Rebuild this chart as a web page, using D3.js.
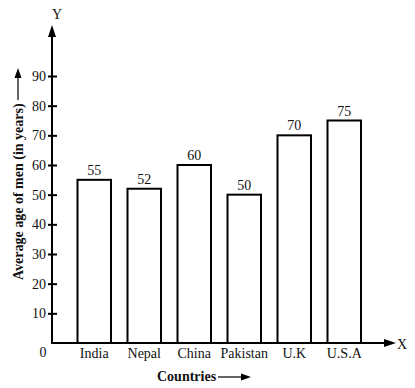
<!DOCTYPE html>
<html>
<head>
<meta charset="utf-8">
<script src="https://cdn.jsdelivr.net/npm/d3@7"></script>
<style>
  body { margin: 0; background: #fff; }
  text { font-family: "Liberation Serif", "Times New Roman", serif; fill: #111; }
</style>
</head>
<body>
<svg id="chart" width="415" height="388"></svg>
<script>
// data
var countries = ["India", "Nepal", "China", "Pakistan", "U.K", "U.S.A"];
var ages = [55, 52, 60, 50, 70, 75];
var yTicks = [10, 20, 30, 40, 50, 60, 70, 80, 90];

var svg = d3.select("#chart");
var axisX = 52, baseY = 343;

var y = d3.scaleLinear().domain([0, 90]).range([baseY, 76]);
var x = d3.scaleBand().domain(countries).range([77.5, 361]).paddingInner(0.33).paddingOuter(0);

// bars
svg.selectAll("rect.bar")
  .data(countries)
  .enter().append("rect")
    .attr("class", "bar")
    .attr("x", d => x(d))
    .attr("y", (d, i) => y(ages[i]))
    .attr("width", x.bandwidth())
    .attr("height", (d, i) => baseY - y(ages[i]))
    .attr("fill", "#fff")
    .attr("stroke", "#000")
    .attr("stroke-width", 2);

// value labels
svg.selectAll("text.val")
  .data(countries)
  .enter().append("text")
    .attr("class", "val")
    .attr("x", d => x(d) + x.bandwidth() / 2)
    .attr("y", (d, i) => y(ages[i]) - 5)
    .attr("text-anchor", "middle")
    .style("font-size", "14px")
    .text((d, i) => ages[i]);

// y axis ticks
var yAxis = d3.axisLeft(y).tickValues(yTicks).tickSize(4).tickPadding(2);
var gy = svg.append("g").attr("transform", "translate(" + axisX + ",0)").call(yAxis);
gy.select(".domain").remove();
gy.selectAll(".tick line").attr("x1", 5).attr("stroke", "#000").attr("stroke-width", 2);
gy.selectAll(".tick text").style("font-size", "14px").attr("font-family", null);

// x labels
svg.selectAll("text.cat")
  .data(countries)
  .enter().append("text")
    .attr("class", "cat")
    .attr("x", d => x(d) + x.bandwidth() / 2)
    .attr("y", 358)
    .attr("text-anchor", "middle")
    .style("font-size", "14px")
    .text(d => d);

// axes lines with arrowheads
svg.append("line").attr("x1", axisX).attr("y1", baseY + 1).attr("x2", axisX).attr("y2", 34)
  .attr("stroke", "#000").attr("stroke-width", 2);
svg.append("path").attr("d", "M" + axisX + ",25 L" + (axisX - 4) + ",37 L" + (axisX + 4) + ",37 Z").attr("fill", "#000");
svg.append("line").attr("x1", axisX - 1).attr("y1", baseY).attr("x2", 388).attr("y2", baseY)
  .attr("stroke", "#000").attr("stroke-width", 2);
svg.append("path").attr("d", "M396," + baseY + " L384," + (baseY - 4) + " L384," + (baseY + 4) + " Z").attr("fill", "#000");

svg.append("text").attr("x", axisX + 5).attr("y", 19).attr("text-anchor", "middle").style("font-size", "14px").text("Y");
svg.append("text").attr("x", 402).attr("y", 349).attr("text-anchor", "middle").style("font-size", "14px").text("X");
svg.append("text").attr("x", 43).attr("y", 357).attr("text-anchor", "middle").style("font-size", "14px").text("0");

// axis titles
svg.append("text").attr("x", 157).attr("y", 381).style("font-size", "14px").style("font-weight", "bold").text("Countries");
svg.append("line").attr("x1", 218).attr("y1", 377).attr("x2", 243).attr("y2", 377).attr("stroke", "#000").attr("stroke-width", 1.2);
svg.append("path").attr("d", "M251,377 L241,373.5 L241,380.5 Z").attr("fill", "#000");

var yt = svg.append("g").attr("transform", "translate(23,280) rotate(-90)");
yt.append("text").attr("x", 0).attr("y", 0).style("font-size", "14px").style("font-weight", "bold").text("Average age of men (in years)");
yt.append("line").attr("x1", 180).attr("y1", -5).attr("x2", 204).attr("y2", -5).attr("stroke", "#000").attr("stroke-width", 1.2);
yt.append("path").attr("d", "M212,-5 L202,-8.5 L202,-1.5 Z").attr("fill", "#000");
</script>
</body>
</html>
